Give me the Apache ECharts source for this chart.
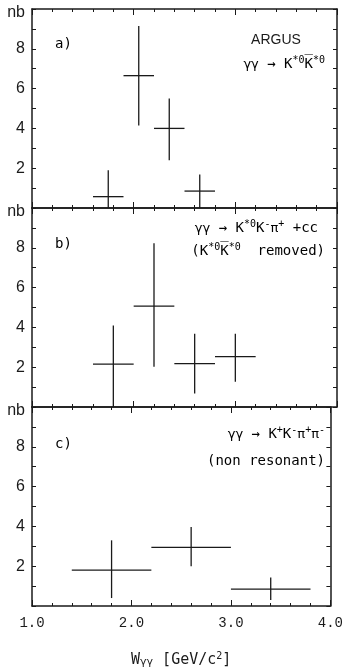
<!DOCTYPE html>
<html>
<head>
<meta charset="utf-8">
<script src="https://cdn.jsdelivr.net/npm/echarts@6/dist/echarts.min.js"></script>
<style>
  html, body { margin: 0; padding: 0; background: #fff; }
  #chart { width: 346px; height: 669px; }
</style>
</head>
<body>
<div id="chart"></div>
<script>
// panel a) gamma gamma -> K*0 K*0bar
const aX = [1.75, 2.05, 2.35, 2.65];
const aXLo = [1.6, 1.9, 2.2, 2.5];
const aXHi = [1.9, 2.2, 2.5, 2.8];
const aY = [0.57, 6.65, 4.0, 0.85];
const aYLo = [0.0, 4.15, 2.4, 0.0];
const aYHi = [1.9, 9.15, 5.5, 1.68];

// panel b) K*0 K- pi+ + cc
const bX = [1.8, 2.2, 2.6, 3.0];
const bXLo = [1.6, 2.0, 2.4, 2.8];
const bXHi = [2.0, 2.4, 2.8, 3.2];
const bY = [2.15, 5.07, 2.18, 2.53];
const bYLo = [0.0, 2.02, 0.68, 1.27];
const bYHi = [4.1, 8.23, 3.68, 3.68];

// panel c) K+ K- pi+ pi- (non resonant)
const cX = [1.8, 2.6, 3.4];
const cXLo = [1.4, 2.2, 3.0];
const cXHi = [2.2, 3.0, 3.8];
const cY = [1.8, 2.95, 0.85];
const cYLo = [0.4, 2.0, 0.3];
const cYHi = [3.3, 3.97, 1.43];

const xTicks = ['1.0', '2.0', '3.0', '4.0'];

const ink = '#1a1a1a';

function rows(x, xlo, xhi, y, ylo, yhi) {
  return x.map((v, i) => [v, y[i], xlo[i], xhi[i], ylo[i], yhi[i]]);
}

const chart = echarts.init(document.getElementById('chart'));

const tops = [9, 208, 407];
const grids = tops.map(t => ({ left: 32, right: 9, top: t, height: 199 }));

const xAxes = [];
const yAxes = [];
for (let i = 0; i < 3; i++) {
  ['bottom', 'top'].forEach(pos => {
    const last = i === 2 && pos === 'bottom';
    xAxes.push({
      type: 'value',
      gridIndex: i,
      position: pos,
      min: 1,
      max: 4,
      interval: 1,
      axisLine: { show: true, onZero: false, lineStyle: { color: ink, width: 1.5 } },
      axisTick: { show: true, inside: true, length: 6, lineStyle: { color: ink } },
      minorTick: { show: true, splitNumber: 5, length: 3, lineStyle: { color: ink } },
      splitLine: { show: false },
      axisLabel: {
        show: last,
        margin: 10,
        fontFamily: 'Liberation Mono',
        fontSize: 14,
        color: ink,
        formatter: v => xTicks[Math.round(v) - 1]
      },
      name: last ? '{b|W}{s|γγ}{b| [GeV/c}{p|2}{b|]}' : '',
      nameLocation: 'middle',
      nameGap: 45,
      nameTextStyle: {
        rich: {
          b: { fontFamily: 'DejaVu Sans Mono', fontSize: 15, color: ink, verticalAlign: 'bottom', lineHeight: 17 },
          s: { fontFamily: 'DejaVu Sans', fontSize: 11, color: ink, verticalAlign: 'bottom', lineHeight: 13 },
          p: { fontFamily: 'DejaVu Sans Mono', fontSize: 10, color: ink, verticalAlign: 'top', lineHeight: 17 }
        }
      }
    });
  });
  ['left', 'right'].forEach(pos => {
    yAxes.push({
      type: 'value',
      gridIndex: i,
      position: pos,
      min: 0,
      max: 10,
      interval: 2,
      axisLine: { show: true, onZero: false, lineStyle: { color: ink, width: 1.5 } },
      axisTick: { show: true, inside: true, length: 4, lineStyle: { color: ink } },
      minorTick: { show: true, splitNumber: 2, length: 4, lineStyle: { color: ink } },
      splitLine: { show: false },
      axisLabel: {
        show: pos === 'left',
        margin: 7,
        fontFamily: 'Liberation Sans',
        fontSize: 16,
        color: ink,
        formatter: v => (v === 10 ? '{n|nb}' : v === 0 ? '' : String(v)),
        rich: { n: { fontFamily: 'Liberation Sans', fontSize: 16, color: ink, padding: [8, 0, 0, 0] } }
      }
    });
  });
}

function errSeries(idx, data) {
  return {
    type: 'custom',
    xAxisIndex: idx * 2,
    yAxisIndex: idx * 2,
    data: data,
    encode: { x: [0, 2, 3], y: [1, 4, 5] },
    silent: true,
    renderItem: (params, api) => {
      const l = api.coord([api.value(2), api.value(1)]);
      const r = api.coord([api.value(3), api.value(1)]);
      const lo = api.coord([api.value(0), api.value(4)]);
      const hi = api.coord([api.value(0), api.value(5)]);
      const st = { stroke: ink, lineWidth: 1.3 };
      return {
        type: 'group',
        children: [
          { type: 'line', shape: { x1: l[0], y1: l[1], x2: r[0], y2: r[1] }, style: st },
          { type: 'line', shape: { x1: lo[0], y1: lo[1], x2: hi[0], y2: hi[1] }, style: st }
        ]
      };
    }
  };
}

const mono = 'DejaVu Sans Mono';
const richTxt = {
  t: { fontFamily: mono, fontSize: 14, color: ink, lineHeight: 16, verticalAlign: 'bottom' },
  g: { fontFamily: 'DejaVu Sans', fontSize: 13, color: ink, lineHeight: 16, verticalAlign: 'bottom' },
  u: { fontFamily: mono, fontSize: 10, color: ink, lineHeight: 16, verticalAlign: 'top' }
};

function label(x, y, text, align) {
  return {
    type: 'text',
    x: x,
    y: y,
    style: {
      text: text,
      textAlign: align || 'right',
      textVerticalAlign: 'middle',
      rich: richTxt
    }
  };
}

chart.setOption({
  animation: false,
  grid: grids,
  xAxis: xAxes,
  yAxis: yAxes,
  series: [
    errSeries(0, rows(aX, aXLo, aXHi, aY, aYLo, aYHi)),
    errSeries(1, rows(bX, bXLo, bXHi, bY, bYLo, bYHi)),
    errSeries(2, rows(cX, cXLo, cXHi, cY, cYLo, cYHi))
  ],
  graphic: [
    label(55, 43, '{t|a)}', 'left'),
    { type: 'text', x: 276, y: 40, style: { text: 'ARGUS', font: '14px "Liberation Sans"', fill: ink, textAlign: 'center', textVerticalAlign: 'middle' } },
    label(325, 63, '{g|γγ}{t| → K}{u|*0}{t|K\u0305}{u|*0}'),
    label(55, 243, '{t|b)}', 'left'),
    label(318, 227, '{g|γγ}{t| → K}{u|*0}{t|K}{u|-}{g|π}{u|+}{t| +cc}'),
    label(325, 250, '{t|(K}{u|*0}{t|K\u0305}{u|*0}{t|  removed)}'),
    label(55, 443, '{t|c)}', 'left'),
    label(325, 433, '{g|γγ}{t| → K}{u|+}{t|K}{u|-}{g|π}{u|+}{g|π}{u|-}'),
    label(325, 460, '{t|(non resonant)}')
  ]
});
</script>
</body>
</html>
